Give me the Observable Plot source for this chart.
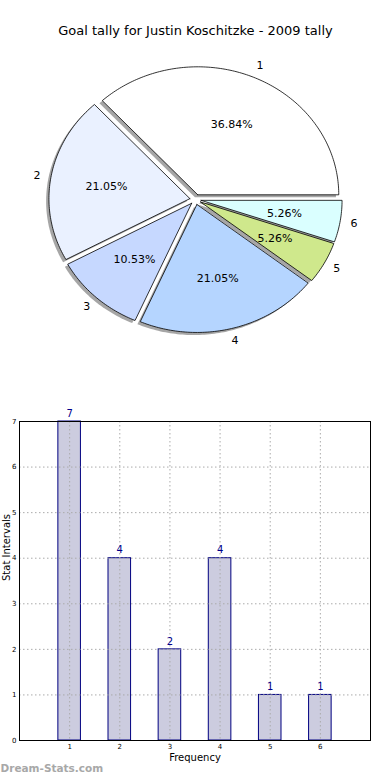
<!DOCTYPE html>
<html>
<head>
<meta charset="utf-8">
<script src="https://cdn.jsdelivr.net/npm/d3@7"></script>
<script src="https://cdn.jsdelivr.net/npm/@observablehq/plot@0.6"></script>
<style>
  html, body { margin: 0; padding: 0; background: #fff; }
  #wrap { position: relative; width: 390px; height: 780px; overflow: hidden; font-family: "DejaVu Sans", sans-serif; }
  #pie { position: absolute; left: 0; top: 0; }
  #bars { position: absolute; left: 0; top: 400px; }
  svg { overflow: visible; }
</style>
</head>
<body>
<div id="wrap"><div id="pie"></div><div id="bars"></div></div>
<script>
// ---- data ----
const titleText = "Goal tally for Justin Koschitzke - 2009 tally";
const categories = ["1", "2", "3", "4", "5", "6"];
const values = [7, 4, 2, 4, 1, 1];
const pieColors = ["#ffffff", "#eaf1ff", "#c6d8ff", "#b5d5ff", "#cfe88c", "#daffff"];
const explode = [0.04, 0.04, 0.04, 0.04, 0.04, 0.04];
const yTicks = [0, 1, 2, 3, 4, 5, 6, 7];
const xTicks = [1, 2, 3, 4, 5, 6];
const xLabel = "Frequency";
const yLabel = "Stat Intervals";
const watermark = "Dream-Stats.com";

const font = "DejaVu Sans";

// ---- pie geometry (in radius units, matplotlib style: ccw from east) ----
const total = d3.sum(values);
let acc = 0;
const wedges = [];
const shadows = [];
const labels = [];
const pcts = [];
values.forEach((v, i) => {
  const a0 = acc / total * 2 * Math.PI;
  acc += v;
  const a1 = acc / total * 2 * Math.PI;
  const mid = (a0 + a1) / 2;
  const cx = explode[i] * Math.cos(mid);
  const cy = explode[i] * Math.sin(mid);
  const n = Math.max(4, Math.ceil((a1 - a0) / (Math.PI / 180)));
  const pts = [[cx, cy]];
  for (let k = 0; k <= n; k++) {
    const a = a0 + (a1 - a0) * k / n;
    pts.push([cx + Math.cos(a), cy + Math.sin(a)]);
  }
  pts.push([cx, cy]);
  pts.forEach(([x, y], j) => {
    wedges.push({slice: categories[i], i, x, y, j});
    shadows.push({slice: categories[i], i, x: x - 0.02, y: y - 0.02, j});
  });
  const lx = cx + 1.1 * Math.cos(mid);
  const ly = cy + 1.1 * Math.sin(mid);
  labels.push({text: categories[i], x: lx, y: ly, anchor: lx > 0 ? "start" : "end"});
  pcts.push({text: (v / total * 100).toFixed(2) + "%", x: cx + 0.6 * Math.cos(mid), y: cy + 0.6 * Math.sin(mid)});
});

const W = 390, H = 400;
const pcx = 195, pcy = 199, rx = 141, ry = 128;

const pie = Plot.plot({
  width: W, height: H,
  margin: 0,
  style: {fontFamily: font, background: "transparent"},
  x: {domain: [-pcx / rx, (W - pcx) / rx], range: [0, W], axis: null},
  y: {domain: [-(H - pcy) / ry, pcy / ry], range: [H, 0], axis: null},
  color: {domain: categories, range: pieColors},
  marks: [
    Plot.line(shadows, {x: "x", y: "y", z: "slice", fill: "#4d4d4d", fillOpacity: 0.5, stroke: "none", curve: "linear"}),
    Plot.line(wedges, {x: "x", y: "y", z: "slice", fill: "slice", stroke: "#000", strokeWidth: 0.8, curve: "linear"}),
    Plot.text(labels, {x: "x", y: "y", text: "text", textAnchor: "anchor", fontSize: 11, fill: "#000"}),
    Plot.text(pcts, {x: "x", y: "y", text: "text", textAnchor: "middle", fontSize: 11, fill: "#000"}),
    Plot.text([titleText], {frameAnchor: "top", dy: 30, fontSize: 13, fill: "#000", lineAnchor: "middle"})
  ]
});
document.getElementById("pie").appendChild(pie);

// ---- bar chart ----
const barData = categories.map((c, i) => ({x: +c, v: values[i]}));
const halfW = 0.225;

const bars = Plot.plot({
  width: 390, height: 380,
  marginTop: 21, marginBottom: 40, marginLeft: 19, marginRight: 20,
  style: {fontFamily: font, background: "transparent"},
  x: {domain: [0, 7], ticks: xTicks, label: null},
  y: {domain: [0, 7], ticks: yTicks, label: null},
  marks: [
    Plot.rectY(barData, {x1: d => d.x - halfW, x2: d => d.x + halfW, y1: 0, y2: "v", fill: "#ccccdf", stroke: "#000080", strokeWidth: 1}),
    Plot.gridX(xTicks, {stroke: "#aaa", strokeOpacity: 1, strokeDasharray: "1.5,2.5"}),
    Plot.gridY(yTicks.filter(t => t > 0 && t < 7), {stroke: "#aaa", strokeOpacity: 1, strokeDasharray: "1.5,2.5"}),
    Plot.frame({stroke: "#000", strokeWidth: 1}),
    Plot.axisX(xTicks, {tickSize: 0, tickPadding: 4, fontSize: 7, fill: "#000", label: null, tickFormat: d => String(d)}),
    Plot.axisY(yTicks, {tickSize: 0, tickPadding: 3, fontSize: 7, fill: "#000", label: null, tickFormat: d => String(d)}),
    Plot.text(barData, {x: "x", y: "v", text: d => String(d.v), dy: -8, fill: "#00008b", fontSize: 10}),
    Plot.text([xLabel], {frameAnchor: "bottom", dy: 20, fontSize: 10, fill: "#000"}),
    Plot.text([yLabel], {frameAnchor: "left", dx: -13, rotate: -90, fontSize: 10, fill: "#000"}),
    Plot.text([watermark], {frameAnchor: "bottom-left", dx: -19, dy: 31, textAnchor: "start", fontSize: 10.5, fontWeight: "bold", fill: "#a8a8a8"})
  ]
});
document.getElementById("bars").appendChild(bars);
</script>
</body>
</html>
